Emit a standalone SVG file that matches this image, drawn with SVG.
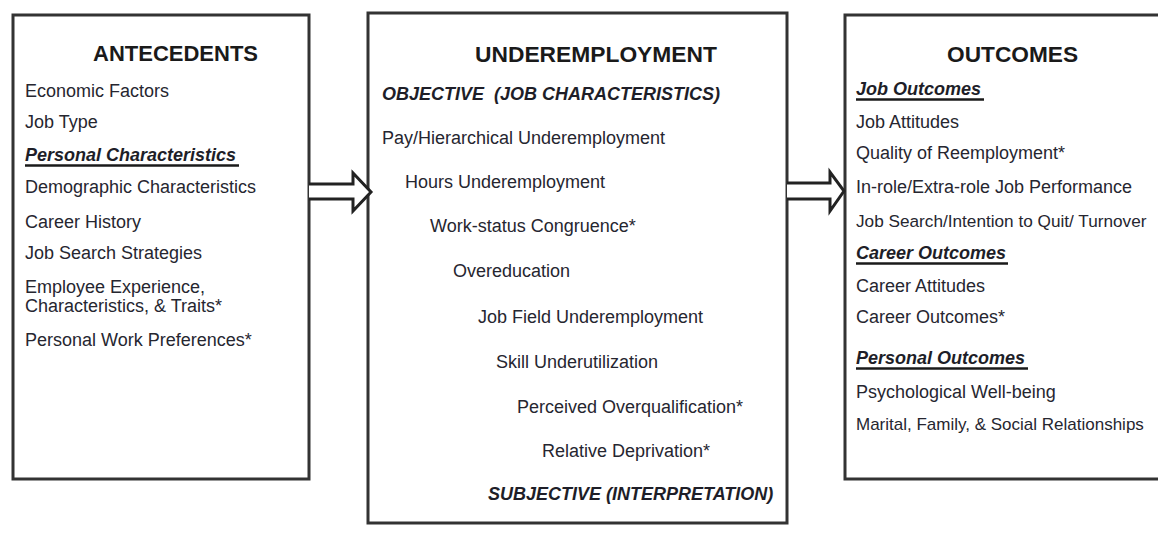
<svg xmlns="http://www.w3.org/2000/svg" width="1158" height="533" viewBox="0 0 1158 533">
<style>
  .box { fill: #ffffff; stroke: #333333; stroke-width: 3; }
  .arrow { fill: #ffffff; stroke: #222222; stroke-width: 3; stroke-linejoin: miter; }
  text { font-family: "Liberation Sans", Arial, sans-serif; fill: #262630; }
  .title { font-size: 22px; font-weight: bold; fill: #1a1a1a; }
  .item { font-size: 18px; }
  .head { font-size: 18px; font-weight: bold; font-style: italic; fill: #1e1e28; }
  .ul { stroke: #1a1a1a; stroke-width: 2.5; }
</style>
<rect width="1158" height="533" fill="#ffffff"/>

<g id="antecedents">
  <rect class="box" x="13" y="15" width="296" height="464"/>
  <text class="title" x="93" y="61">ANTECEDENTS</text>
  <text class="item" x="25" y="97">Economic Factors</text>
  <text class="item" x="25" y="128">Job Type</text>
  <text class="head" x="25" y="161">Personal Characteristics</text>
  <line class="ul" x1="25" y1="165.5" x2="239" y2="165.5"/>
  <text class="item" x="25" y="193">Demographic Characteristics</text>
  <text class="item" x="25" y="228">Career History</text>
  <text class="item" x="25" y="259">Job Search Strategies</text>
  <text class="item" x="25" y="293">Employee Experience,</text>
  <text class="item" x="25" y="312">Characteristics, &amp; Traits*</text>
  <text class="item" x="25" y="346">Personal Work Preferences*</text>
</g>

<g id="underemployment">
  <rect class="box" x="368" y="13" width="419" height="510"/>
  <text class="title" x="475" y="62" style="font-size:22.8px">UNDEREMPLOYMENT</text>
  <text class="head" x="382" y="100">OBJECTIVE&#160; (JOB CHARACTERISTICS)</text>
  <text class="item" x="382" y="144">Pay/Hierarchical Underemployment</text>
  <text class="item" x="405" y="188">Hours Underemployment</text>
  <text class="item" x="430" y="232">Work-status Congruence*</text>
  <text class="item" x="453" y="277">Overeducation</text>
  <text class="item" x="478" y="323">Job Field Underemployment</text>
  <text class="item" x="496" y="368">Skill Underutilization</text>
  <text class="item" x="517" y="413">Perceived Overqualification*</text>
  <text class="item" x="542" y="457">Relative Deprivation*</text>
  <text class="head" x="488" y="500">SUBJECTIVE (INTERPRETATION)</text>
</g>

<g id="outcomes">
  <rect class="box" x="845" y="15" width="330" height="464"/>
  <text class="title" x="947" y="62" style="font-size:22.7px">OUTCOMES</text>
  <text class="head" x="856" y="95">Job Outcomes</text>
  <line class="ul" x1="856" y1="99.5" x2="984" y2="99.5"/>
  <text class="item" x="856" y="128">Job Attitudes</text>
  <text class="item" x="856" y="159">Quality of Reemployment*</text>
  <text class="item" x="856" y="193">In-role/Extra-role Job Performance</text>
  <text class="item" x="856" y="227" style="font-size:17.2px">Job Search/Intention to Quit/ Turnover</text>
  <text class="head" x="856" y="259">Career Outcomes</text>
  <line class="ul" x1="856" y1="263.5" x2="1008" y2="263.5"/>
  <text class="item" x="856" y="292">Career Attitudes</text>
  <text class="item" x="856" y="323">Career Outcomes*</text>
  <text class="head" x="856" y="364">Personal Outcomes</text>
  <line class="ul" x1="856" y1="368.5" x2="1028" y2="368.5"/>
  <text class="item" x="856" y="398">Psychological Well-being</text>
  <text class="item" x="856" y="430" style="font-size:17px">Marital, Family, &amp; Social Relationships</text>
</g>

<g id="connectors">
  <path class="arrow" d="M309,184 L353,184 L353,173 L371,192 L353,211 L353,199 L309,199"/>
  <path class="arrow" d="M787,183 L830,183 L830,172 L844,191 L830,211 L830,199 L787,199"/>
</g>
</svg>
